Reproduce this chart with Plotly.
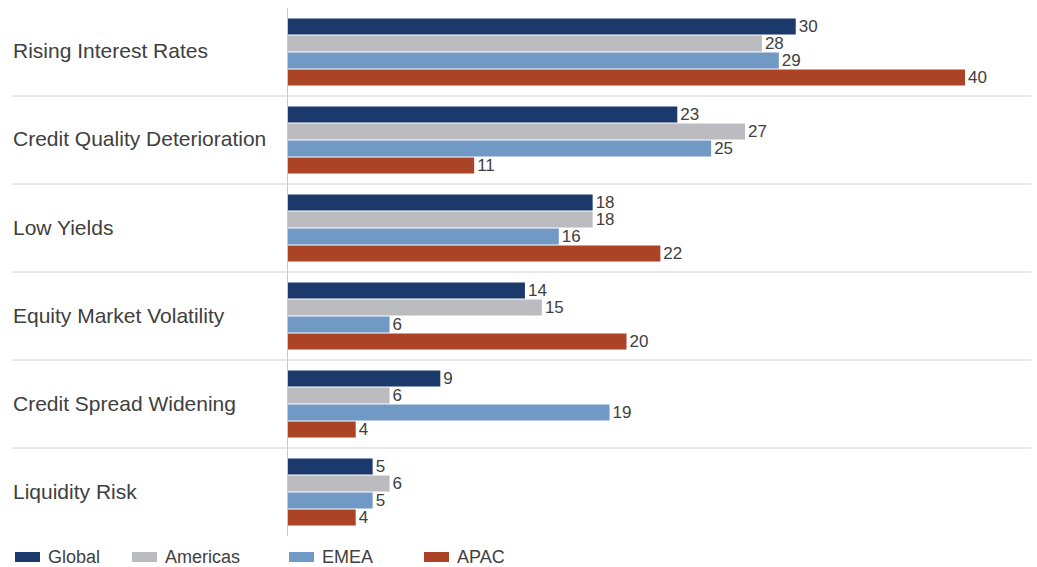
import plotly.graph_objects as go

categories = ["Rising Interest Rates", "Credit Quality Deterioration", "Low Yields",
              "Equity Market Volatility", "Credit Spread Widening", "Liquidity Risk"]
series_names = ["Global", "Americas", "EMEA", "APAC"]
global_vals = [30, 23, 18, 14, 9, 5]
americas_vals = [28, 27, 18, 15, 6, 6]
emea_vals = [29, 25, 16, 6, 19, 5]
apac_vals = [40, 11, 22, 20, 4, 4]
colors = ["#1b3a6b", "#bbbcc0", "#7199c6", "#ab4426"]

W, H = 1037, 567
L, R, T, B = 288, 6, 8, 31
PW, PH = W - L - R, H - T - B
XMAX = PW / 16.925

def px_x(x):
    return (x - L) / PW

def px_y(y):
    return (H - B - y) / PH

fig = go.Figure()
for name, vals, col in zip(series_names, [global_vals, americas_vals, emea_vals, apac_vals], colors):
    fig.add_trace(go.Bar(
        y=categories, x=vals, name=name, orientation="h",
        marker=dict(color=col, line=dict(width=0)),
        text=[str(v) for v in vals], textposition="outside", constraintext="none",
        textfont=dict(size=17, color="#404040", family="Liberation Sans"),
        cliponaxis=False, showlegend=False,
    ))

shapes = []
n = len(categories)
for i in range(1, n):
    yy = 1 - i / n
    shapes.append(dict(type="line", xref="paper", yref="paper",
                       x0=px_x(12), x1=px_x(1031), y0=yy, y1=yy,
                       line=dict(color="#d0d0d0", width=1)))
annotations = []
for i, c in enumerate(categories):
    yy = 1 - (i + 0.5) / n
    annotations.append(dict(text=c, xref="paper", yref="paper", x=px_x(11), y=px_y(T + (i + 0.5) * PH / n - 1),
                            xanchor="left", yanchor="middle", showarrow=False,
                            font=dict(size=21, color="#404040", family="Liberation Sans")))

leg_x = [15, 132, 289, 424]
for name, col, lx in zip(series_names, colors, leg_x):
    shapes.append(dict(type="rect", xref="paper", yref="paper",
                       x0=px_x(lx), x1=px_x(lx + 25), y0=px_y(552), y1=px_y(562),
                       fillcolor=col, line=dict(width=0)))
    annotations.append(dict(text=name, xref="paper", yref="paper", x=px_x(lx + 31), y=px_y(557),
                            xanchor="left", yanchor="middle", showarrow=False,
                            font=dict(size=18, color="#404040", family="Liberation Sans")))

fig.update_layout(
    width=W, height=H, barmode="group", bargap=0.227, bargroupgap=0.06,
    margin=dict(l=L, r=R, t=T, b=B),
    plot_bgcolor="white", paper_bgcolor="white",
    xaxis=dict(range=[0, XMAX], showgrid=False, zeroline=False, showticklabels=False,
               showline=False, fixedrange=True),
    yaxis=dict(autorange="reversed", showticklabels=False, showgrid=False,
               showline=True, linecolor="#c8c8c8", linewidth=1, ticks=""),
    shapes=shapes, annotations=annotations,
)
fig.write_html("out.html")
